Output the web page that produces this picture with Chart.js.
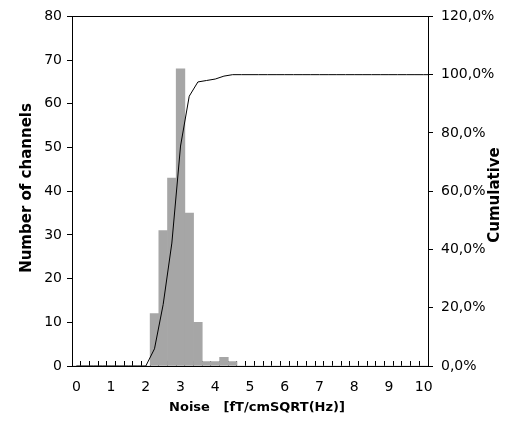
<!DOCTYPE html>
<html>
<head>
<meta charset="utf-8">
<script src="https://cdn.jsdelivr.net/npm/chart.js@4"></script>
<style>
  html, body { margin: 0; padding: 0; background: #fff; }
  #box { width: 512px; height: 421px; }
</style>
</head>
<body>
<div id="box"><canvas id="myChart"></canvas></div>
<script>
// Bins of the noise histogram (0.25 steps)
const bins = ["0", "0.25", "0.5", "0.75", "1", "1.25", "1.5", "1.75", "2", "2.25",
    "2.5", "2.75", "3", "3.25", "3.5", "3.75", "4", "4.25", "4.5", "4.75",
    "5", "5.25", "5.5", "5.75", "6", "6.25", "6.5", "6.75", "7", "7.25",
    "7.5", "7.75", "8", "8.25", "8.5", "8.75", "9", "9.25", "9.5", "9.75", "10"];
// Number of channels in each bin
const channels = [0, 0, 0, 0, 0, 0, 0, 0, 0, 12,
    31, 43, 68, 35, 10, 1, 1, 2, 1, 0,
    0, 0, 0, 0, 0, 0, 0, 0, 0, 0,
    0, 0, 0, 0, 0, 0, 0, 0, 0, 0, 0];
// Cumulative share in percent (last value is the "More" bin, past the edge)
const cumulative = [0, 0, 0, 0, 0, 0, 0, 0, 0, 5.9,
    21.1, 42.2, 75.5, 92.6, 97.5, 98.0, 98.5, 99.5, 100, 100,
    100, 100, 100, 100, 100, 100, 100, 100, 100, 100,
    100, 100, 100, 100, 100, 100, 100, 100, 100, 100, 100, 100];
// Labels shown on the x axis
const xTickLabels = ["0", "1", "2", "3", "4", "5", "6", "7", "8", "9", "10"];

const tickFont = { family: "DejaVu Sans", size: 14 };

// Writes a title, optionally turned to read bottom-to-top
function drawTitle(c, text, x, y, size, vertical) {
    c.save();
    c.fillStyle = "#000";
    c.font = "bold " + size + "px 'DejaVu Sans'";
    c.textAlign = "center";
    c.textBaseline = "middle";
    c.translate(x, y);
    if (vertical) c.rotate(-Math.PI / 2);
    c.fillText(text, 0, 0);
    c.restore();
}

// Draws the frame round the plot and the axis titles
const framePlugin = {
    id: "frame",
    afterDraw(chart) {
        const c = chart.ctx;
        const a = chart.chartArea;
        c.save();
        c.strokeStyle = "#000";
        c.lineWidth = 1;
        c.strokeRect(Math.round(a.left) + 0.5, Math.round(a.top) + 0.5,
            Math.round(a.right - a.left), Math.round(a.bottom - a.top));
        c.restore();
        drawTitle(c, "Number of channels", 27, 188, 15, true);
        drawTitle(c, "Cumulative", 495, 195, 15, true);
        drawTitle(c, "Noise   [fT/cmSQRT(Hz)]", 257, 408, 13, false);
    }
};

const ctx = document.querySelector("#myChart");

new Chart(ctx, {
    type: "bar",
    data: {
        labels: bins,
        datasets: [
            {
                type: "line",
                data: cumulative.map((v, i) => ({ x: i, y: v })),
                xAxisID: "x2",
                yAxisID: "y1",
                borderColor: "#000",
                borderWidth: 1,
                pointRadius: 0,
                tension: 0,
                order: 0
            },
            {
                type: "bar",
                data: channels,
                xAxisID: "x",
                yAxisID: "y",
                backgroundColor: "#a6a6a6",
                borderWidth: 0,
                grouped: false,
                barPercentage: 1,
                categoryPercentage: 1,
                order: 1
            }
        ]
    },
    options: {
        responsive: true,
        maintainAspectRatio: false,
        animation: false,
        layout: { padding: { top: 15, left: 0, right: 0, bottom: 0 } },
        plugins: { legend: { display: false }, tooltip: { enabled: false } },
        scales: {
            x: {
                afterFit: (s) => { s.height = 55; },
                grid: { drawOnChartArea: false, offset: true, color: "#000", tickLength: -5 },
                border: { color: "#000", width: 1 },
                ticks: {
                    autoSkip: false,
                    maxRotation: 0,
                    padding: 18,
                    color: "#000",
                    font: tickFont,
                    callback: function (val) {
                        const label = this.getLabelForValue(val);
                        return xTickLabels.includes(label) ? label : "";
                    }
                }
            },
            // Bin index axis for the line, lined up with the bar centres
            x2: {
                type: "linear",
                min: -0.5,
                max: bins.length - 0.5,
                offset: false,
                bounds: "ticks",
                grid: { offset: false },
                display: false
            },
            y: {
                position: "left",
                min: 0,
                max: 80,
                afterFit: (s) => { s.width = 72; },
                grid: { drawOnChartArea: false, color: "#000", tickLength: 5 },
                border: { color: "#000", width: 1 },
                ticks: { stepSize: 10, padding: 5, color: "#000", font: tickFont }
            },
            y1: {
                position: "right",
                min: 0,
                max: 120,
                afterFit: (s) => { s.width = 84; },
                grid: { drawOnChartArea: false, color: "#000", tickLength: 5 },
                border: { color: "#000", width: 1 },
                ticks: {
                    stepSize: 20,
                    padding: 8,
                    color: "#000",
                    font: tickFont,
                    callback: value => value.toFixed(1).replace(".", ",") + "%"
                }
            }
        }
    },
    plugins: [framePlugin]
});
</script>
</body>
</html>
